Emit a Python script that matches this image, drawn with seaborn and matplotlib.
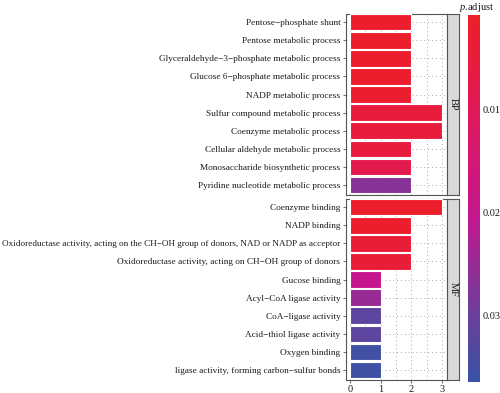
import matplotlib
matplotlib.use("Agg")
import matplotlib.pyplot as plt
import seaborn as sns
import pandas as pd
import numpy as np
from matplotlib.colors import LinearSegmentedColormap, Normalize
from matplotlib.cm import ScalarMappable

bp_terms = ["Pentose\u2212phosphate shunt", "Pentose metabolic process",
            "Glyceraldehyde\u22123\u2212phosphate metabolic process",
            "Glucose 6\u2212phosphate metabolic process", "NADP metabolic process",
            "Sulfur compound metabolic process", "Coenzyme metabolic process",
            "Cellular aldehyde metabolic process", "Monosaccharide biosynthetic process",
            "Pyridine nucleotide metabolic process"]
bp_counts = [2, 2, 2, 2, 2, 3, 3, 2, 2, 2]
bp_padj = [0.0022, 0.0022, 0.0022, 0.0022, 0.0025, 0.0050, 0.0050, 0.0052, 0.0080, 0.0270]

mf_terms = ["Coenzyme binding", "NADP binding",
            "Oxidoreductase activity, acting on the CH\u2212OH group of donors, NAD or NADP as acceptor",
            "Oxidoreductase activity, acting on CH\u2212OH group of donors",
            "Gucose binding", "Acyl\u2212CoA ligase activity", "CoA\u2212ligase activity",
            "Acid\u2212thiol ligase activity", "Oxygen binding",
            "ligase activity, forming carbon\u2212sulfur bonds"]
mf_counts = [3, 2, 2, 2, 1, 1, 1, 1, 1, 1]
mf_padj = [0.0020, 0.0022, 0.0040, 0.0042, 0.0200, 0.0250, 0.0320, 0.0320, 0.0355, 0.0355]

cbar_ticks = [0.01, 0.02, 0.03]
vmin, vmax = 0.0008, 0.0365

sns.set_theme(style="white")
plt.rcParams['font.family'] = ['Liberation Serif', 'DejaVu Serif']
plt.rcParams['mathtext.fontset'] = 'custom'
plt.rcParams['mathtext.rm'] = 'Liberation Serif'
plt.rcParams['mathtext.it'] = 'Liberation Serif:italic'

cmap = LinearSegmentedColormap.from_list(
    "padj", [(0.0, "#EE1F26"), (0.26, "#E01959"), (0.54, "#C5168E"),
             (0.82, "#6A3F9B"), (1.0, "#3853A4")])
norm = Normalize(vmin=vmin, vmax=vmax)

W, H = 500, 393
fig = plt.figure(figsize=(5.0, 3.93), dpi=100)

def ax_rect(x0, y0, x1, y1):
    return [x0 / W, 1 - y1 / H, (x1 - x0) / W, (y1 - y0) / H]

panels = [("BP", bp_terms, bp_counts, bp_padj, 14, 195),
          ("MF", mf_terms, mf_counts, mf_padj, 199, 380)]

edge = "#555555"
txt = "#1a1a1a"
for i, (lab, terms, counts, padj, y0, y1) in enumerate(panels):
    ax = fig.add_axes(ax_rect(346, y0, 447, y1))
    df = pd.DataFrame({"term": terms, "count": counts, "padj": padj})
    colors = [cmap(norm(p)) for p in padj]
    sns.barplot(data=df, x="count", y="term", hue="term", palette=colors,
                legend=False, ax=ax, width=0.92, edgecolor="white", linewidth=0.8,
                saturation=1, zorder=3)
    ax.set_xlim(-0.12, 3.15)
    ax.set_ylim(len(terms) - 0.45, -0.45)
    ax.set_xlabel("")
    ax.set_ylabel("")
    ax.set_xticks([0, 1, 2, 3])
    ax.set_xticks([0.5, 1.5, 2.5], minor=True)
    ax.grid(True, which="both", axis="x", color="#AAAAAA", linestyle=(0, (1, 3)),
            linewidth=0.7, zorder=0)
    ax.grid(True, which="major", axis="y", color="#AAAAAA", linestyle=(0, (1, 3)),
            linewidth=0.7, zorder=0)
    ax.set_axisbelow(True)
    for s in ax.spines.values():
        s.set_color(edge)
        s.set_linewidth(0.8)
    ax.tick_params(axis="y", which="major", left=True, length=2, width=0.6,
                   color=edge, labelsize=6.7, pad=2, labelcolor=txt)
    for t in ax.get_yticklabels():
        if len(t.get_text()) > 70:
            t.set_fontsize(6.62)
    ax.tick_params(axis="x", which="minor", bottom=False)
    if i == 1:
        ax.tick_params(axis="x", which="major", bottom=True, length=2, width=0.6,
                       color=edge, labelsize=7.5, pad=1.5, labelcolor=txt)
    else:
        ax.tick_params(axis="x", which="major", bottom=False, labelbottom=False)
    # strip
    sax = fig.add_axes(ax_rect(447, y0, 459, y1))
    sax.set_facecolor("#D9D9D9")
    sax.set_xticks([])
    sax.set_yticks([])
    for s in sax.spines.values():
        s.set_color(edge)
        s.set_linewidth(0.8)
    sax.text(0.5, 0.5, lab, rotation=-90, ha="center", va="center",
             fontsize=7.5, color=txt, transform=sax.transAxes)

# colorbar
cax = fig.add_axes(ax_rect(468, 15, 480, 382))
sm = ScalarMappable(norm=norm, cmap=cmap)
cb = fig.colorbar(sm, cax=cax, ticks=cbar_ticks)
cb.outline.set_visible(False)
cb.ax.set_yticklabels(["0.01", "0.02", "0.03"])
cb.ax.tick_params(axis="y", length=3, width=0.8, color="white", direction="in",
                  labelsize=7.5, pad=2, labelcolor=txt)
cb.ax.invert_yaxis()
fig.text(477 / W, 1 - 8 / H, r"$\it{p}$.adjust", ha="center", va="center",
         fontsize=7.5, color=txt)

fig.savefig("out.png", dpi=100)
